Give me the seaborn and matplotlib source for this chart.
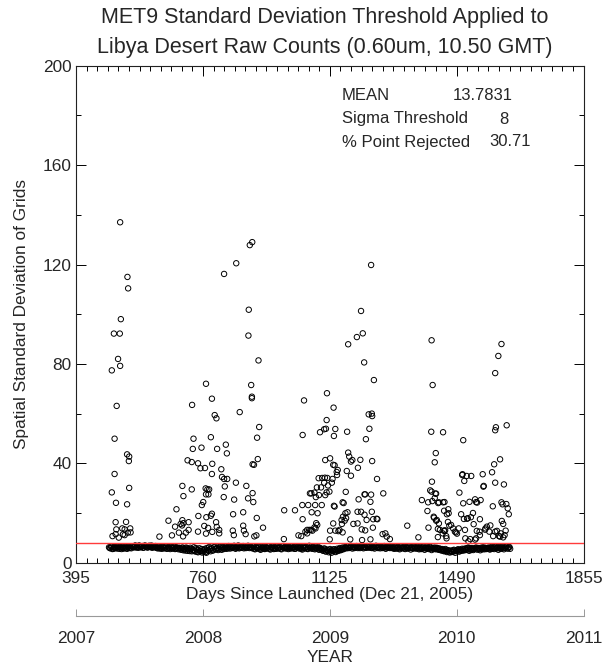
import numpy as np
import pandas as pd
import matplotlib
matplotlib.use("Agg")
import matplotlib.pyplot as plt
from matplotlib.ticker import MultipleLocator, FixedLocator
import seaborn as sns

# ---- data -------------------------------------------------------------
# Quiet-sky baseline, two interleaved 4-day samplings (days 490.. and 492..)
base_start_a = 490
base_start_b = 492
base_step = 4
base_vals_a = [
    6.2, 5.8, 6.5, 5.6, 6.3, 6.0, 5.7, 6.6, 6.1, 5.5, 6.4, 5.9, 6.2, 5.6, 6.5, 6.0, 5.8,
    6.6, 6.2, 6.9, 6.4, 6.0, 6.8, 6.3, 6.7, 6.1, 6.9, 6.5, 6.2, 6.8, 6.4, 6.0, 6.6, 6.3,
    6.2, 5.8, 6.4, 6.0, 5.6, 6.3, 5.9, 6.5, 5.7, 6.1, 5.5, 6.2, 5.8, 6.4, 5.6, 6.0, 5.4,
    5.9, 5.2, 6.1, 5.5, 4.9, 5.8, 5.3, 4.7, 5.6, 5.0, 6.2, 4.5, 5.4, 4.2, 5.8, 4.6, 4.1,
    4.4, 5.6, 4.0, 5.1, 6.3, 4.6, 5.7, 5.0, 6.4, 5.3, 6.0, 5.5, 6.6, 5.2, 6.2, 5.8, 6.5,
    6.1, 6.7, 5.7, 6.4, 6.0, 6.8, 5.6, 6.3, 6.9, 5.9, 6.5, 6.2, 5.8, 6.6, 6.1, 6.8, 5.9,
    6.4, 5.8, 6.6, 5.4, 6.1, 5.7, 6.5, 5.2, 6.0, 6.3, 5.5, 6.2, 5.9, 6.6, 5.3, 6.0, 5.7,
    6.2, 5.6, 6.5, 5.9, 6.3, 5.4, 6.7, 6.0, 5.7, 6.4, 5.5, 6.1, 6.6, 5.8, 6.3, 5.6, 6.0,
    6.4, 5.7, 6.1, 5.3, 6.5, 5.9, 6.2, 5.5, 6.8, 6.0, 5.6, 6.3, 5.4, 6.1, 5.8, 5.2, 5.9,
    5.4, 4.8, 5.7, 4.5, 5.1, 4.2, 5.5, 4.0, 4.7, 5.3, 4.3, 5.6, 4.9, 5.9, 5.2, 6.1, 5.6,
    6.3, 5.8, 6.6, 6.0, 6.8, 5.7, 6.4, 6.1, 6.7, 5.9, 6.5, 6.2, 6.9, 5.8, 6.4, 6.0, 6.6,
    6.2, 6.6, 5.9, 6.4, 5.7, 6.8, 6.1, 6.5, 5.8, 6.3, 6.0, 6.7, 5.6, 6.2, 6.5, 5.9, 6.3,
    6.0, 5.6, 6.4, 5.8, 6.2, 5.4, 6.5, 5.9, 6.1, 5.5, 6.3, 5.7, 6.6, 5.3, 6.0, 5.8, 6.2,
    5.7, 6.3, 5.4, 6.0, 5.6, 6.5, 5.2, 5.9, 6.2, 5.5, 6.4, 5.1, 5.8, 6.1, 5.4, 5.9, 5.2,
    5.6, 4.9, 5.3, 4.6, 5.5, 4.3, 5.0, 4.1, 4.8, 4.4, 5.2, 4.0, 4.7, 5.4, 4.5, 5.1, 5.6,
    4.9, 5.7, 5.2, 6.0, 4.8, 5.5, 5.9, 5.1, 5.6, 6.1, 5.3, 5.8, 5.0, 5.7, 6.2, 5.4, 5.9,
    5.6, 6.1, 5.3, 6.3, 5.8, 5.5, 6.4, 5.9, 5.2, 6.2, 5.7, 6.5, 5.4, 6.0, 6.6, 5.8, 6.3,
]
base_vals_b = [
    5.9, 6.4, 5.5, 6.1, 5.8, 6.6, 6.2, 5.6, 6.3, 6.0, 5.7, 6.5, 5.8, 6.3, 5.9, 6.2, 6.6,
    6.3, 6.8, 6.1, 6.6, 6.9, 6.2, 6.5, 6.0, 6.8, 6.4, 6.1, 6.7, 6.3, 6.9, 6.5, 6.2, 6.7,
    5.9, 6.5, 5.7, 6.2, 6.4, 5.8, 6.1, 5.6, 6.3, 5.9, 6.4, 5.7, 6.1, 5.5, 6.2, 5.8, 6.0,
    5.4, 6.0, 5.0, 5.7, 6.1, 4.8, 5.5, 6.0, 4.6, 5.3, 4.8, 5.9, 4.4, 5.1, 4.7, 5.5, 4.9,
    5.2, 4.3, 5.9, 4.8, 5.4, 6.0, 4.9, 6.2, 5.6, 5.9, 5.1, 6.3, 5.7, 6.4, 5.5, 6.1, 5.6,
    5.8, 6.3, 6.6, 5.9, 6.5, 6.2, 6.0, 6.7, 5.8, 6.4, 6.0, 6.7, 6.3, 5.9, 6.6, 6.2, 6.4,
    6.0, 6.5, 5.6, 6.3, 5.9, 6.2, 5.5, 6.4, 5.8, 5.6, 6.1, 5.7, 6.5, 5.6, 6.2, 6.4, 5.5,
    5.8, 6.4, 5.7, 6.1, 5.6, 6.5, 5.9, 6.3, 6.2, 5.8, 6.4, 5.7, 6.0, 6.2, 5.6, 6.5, 6.3,
    5.9, 6.3, 5.6, 6.2, 5.8, 6.4, 5.6, 6.1, 5.9, 6.5, 6.2, 5.7, 6.0, 5.6, 6.3, 5.7, 5.5,
    5.0, 5.6, 4.6, 5.3, 4.8, 5.2, 4.5, 5.0, 5.4, 4.6, 5.1, 4.7, 5.5, 5.0, 5.7, 5.4, 6.0,
    6.0, 6.5, 5.9, 6.4, 6.2, 6.5, 5.9, 6.6, 6.2, 6.4, 5.9, 6.6, 6.1, 6.5, 6.2, 6.7, 6.1,
    6.5, 6.0, 6.6, 6.1, 6.5, 6.2, 5.9, 6.3, 6.6, 5.9, 6.5, 6.1, 6.4, 6.0, 6.1, 6.6, 5.9,
    6.2, 6.1, 5.7, 6.3, 5.7, 6.1, 5.8, 6.3, 5.7, 6.2, 5.9, 6.4, 5.9, 6.2, 5.7, 6.4, 5.8,
    6.0, 5.7, 6.2, 5.5, 6.2, 5.8, 6.1, 5.6, 5.8, 6.2, 5.7, 5.9, 5.5, 5.6, 6.0, 5.5, 5.7,
    5.2, 5.5, 4.8, 5.1, 4.7, 5.0, 4.5, 4.8, 4.3, 5.0, 4.6, 4.9, 5.1, 4.6, 5.3, 4.8, 5.3,
    5.4, 5.1, 5.8, 5.3, 5.9, 5.1, 5.6, 5.5, 5.9, 5.4, 5.9, 5.4, 6.0, 5.4, 5.7, 6.0, 5.5,
    5.9, 5.5, 6.0, 5.6, 6.2, 6.0, 5.7, 6.3, 5.9, 5.6, 6.3, 5.8, 6.1, 6.4, 5.7, 6.2, 5.6,
]

# Days with elevated spatial standard deviation (cloud-contaminated grids)
spike_days = [
    498, 498, 500, 504, 506, 506, 509, 509, 510, 511, 512, 516, 518, 521, 522, 522,
    524, 528, 530, 535, 535, 539, 542, 542, 543, 544, 545, 547, 548, 548, 551, 552,
    635, 661, 671, 680, 684,
    691, 696, 700, 701, 701, 703, 704, 704, 711, 716, 719, 719, 728, 728, 729, 731,
    733, 746, 746, 747, 753, 756, 757, 761, 764, 766, 768, 769, 769, 769, 770, 773,
    775, 776, 778, 783, 783, 786, 786, 786, 787, 787, 794, 799, 798, 800, 801, 807,
    807, 813, 815, 820, 821, 821, 823, 826, 829, 830, 846, 847, 849, 850, 855, 856,
    866, 876, 876, 878, 883, 885, 890, 891, 892, 895, 899, 901, 901, 902, 903, 903,
    905, 907, 908, 914, 915, 916, 918, 920, 922, 933,
    993, 994, 1025, 1035,
    1043, 1046, 1047, 1047, 1051, 1055, 1060, 1060, 1063, 1066, 1068, 1071, 1072, 1073,
    1075, 1081, 1081, 1083, 1084, 1085, 1086, 1088, 1089, 1090, 1093, 1094, 1097, 1100,
    1102, 1103, 1109, 1109, 1111, 1112, 1112, 1114, 1116, 1116, 1117, 1118, 1120, 1124,
    1125, 1126, 1126, 1131, 1133, 1135, 1135, 1136, 1137, 1137, 1139, 1139, 1141, 1141,
    1145, 1146, 1148, 1150, 1153, 1159, 1160, 1162, 1162, 1163, 1165, 1168, 1170, 1171,
    1172, 1174, 1175, 1176, 1178, 1178, 1181, 1184, 1186, 1186, 1190, 1193, 1203, 1205,
    1205, 1206, 1208, 1213, 1215, 1215, 1217, 1218, 1220, 1224, 1225, 1225, 1227, 1227,
    1229, 1231, 1237, 1239, 1242, 1242, 1244, 1244, 1246, 1247, 1247, 1246, 1249, 1250,
    1252, 1260, 1261, 1262, 1277, 1279, 1285, 1289, 1298,
    1348, 1380, 1390, 1406, 1408, 1409, 1414, 1417, 1418, 1418, 1419, 1420, 1421, 1424,
    1425, 1427, 1427, 1429, 1430, 1431, 1431, 1433, 1436, 1436, 1437, 1439, 1439, 1442,
    1450, 1451, 1451, 1453, 1454, 1455, 1455, 1457, 1460, 1461, 1462, 1465, 1466, 1467,
    1469, 1474, 1480, 1485, 1488, 1491, 1496, 1498, 1503, 1506, 1507, 1509, 1509, 1511,
    1512, 1514, 1515, 1519, 1520, 1522, 1524, 1527, 1529, 1531, 1532, 1537, 1539, 1543,
    1543, 1546, 1546, 1548, 1549, 1556, 1557, 1557, 1559, 1565, 1567, 1568, 1572, 1573,
    1577, 1584, 1587, 1592, 1594, 1595, 1598, 1601, 1601, 1601, 1601, 1603, 1606, 1610,
    1612, 1615, 1615, 1617, 1619, 1619, 1620, 1622, 1624, 1624, 1626, 1628, 1631, 1633,
    1634, 1637, 1640,
]
spike_vals = [
    77.4, 28.3, 10.7, 92.2, 49.9, 35.7, 16.3, 11.5, 24.1, 13.4, 63.1, 82.0, 10.1, 92.2, 79.2, 137.0,
    98.0, 13.8, 11.4, 13.4, 11.1, 16.4, 43.6, 23.5, 115.0, 12.1, 110.4, 40.9, 42.7, 30.1, 13.8, 12.2,
    10.5, 16.9, 11.0, 14.5, 21.5,
    12.1, 15.6, 15.0, 17.1, 30.9, 10.6, 26.8, 15.9, 12.1, 41.2, 16.3, 13.2, 40.5, 29.5, 63.5, 45.8,
    49.9, 40.0, 12.5, 18.8, 38.0, 46.3, 23.2, 24.4, 14.8, 38.1, 29.9, 72.0, 27.5, 11.7, 18.3, 29.5,
    14.0, 27.5, 29.5, 50.5, 18.9, 66.0, 19.7, 35.7, 39.8, 12.4, 59.4, 58.1, 16.3, 14.4, 45.8, 13.2,
    11.8, 37.6, 34.5, 26.4, 33.7, 116.2, 30.7, 47.5, 44.0, 33.7, 12.9, 19.5, 11.1, 25.4, 32.2, 120.5,
    60.6, 20.3, 14.9, 12.9, 11.5, 30.9, 25.9, 91.4, 101.8, 127.8, 71.5, 66.8, 66.2, 129.0, 39.6, 28.0,
    24.4, 39.4, 10.6, 11.0, 18.0, 50.3, 41.7, 81.4, 54.6, 14.1,
    9.5, 21.1, 21.1, 11.0,
    10.7, 23.2, 51.4, 17.5, 65.3, 12.5, 13.2, 11.8, 23.2, 13.2, 27.9, 13.2, 27.9, 20.3,
    12.9, 28.2, 14.2, 23.2, 13.8, 26.4, 15.9, 30.3, 15.2, 19.9, 34.0, 27.2, 52.5, 30.3,
    23.2, 34.1, 53.7, 32.2, 34.2, 41.3, 27.2, 53.9, 57.4, 28.3, 68.2, 34.1, 31.1, 28.6,
    9.4, 42.0, 12.9, 32.2, 33.7, 39.4, 15.8, 62.4, 51.0, 22.9, 39.2, 22.6, 53.8, 12.9,
    36.5, 35.3, 37.3, 12.7, 13.2, 17.2, 15.6, 24.3, 12.2, 18.5, 24.0, 16.9, 19.9, 28.5,
    17.9, 36.9, 52.7, 20.3, 87.9, 44.3, 42.7, 9.4, 40.7, 35.0, 41.3, 15.6, 90.8, 20.5,
    15.8, 38.2, 25.5, 41.4, 101.3, 20.5, 13.4, 9.1, 92.3, 80.6, 27.5, 19.3, 27.5, 13.0,
    49.7, 17.2, 59.7, 53.9, 24.5, 9.4, 27.4, 119.8, 60.0, 59.0, 40.9, 20.5, 14.1, 17.5,
    73.5, 17.7, 33.7, 17.5, 11.5, 27.9, 11.8, 10.5, 9.5,
    14.9, 10.2, 25.2, 20.8, 24.3, 14.1, 29.1, 52.7, 89.5, 28.6, 32.6, 24.8, 71.5, 18.5,
    18.1, 40.4, 26.0, 27.8, 44.1, 27.8, 16.9, 17.2, 13.6, 10.3, 24.0, 24.3, 15.8, 13.2,
    11.8, 52.5, 24.3, 12.9, 20.9, 24.4, 12.8, 13.0, 10.7, 9.8, 19.5, 16.4, 21.5, 19.9,
    14.9, 15.2, 13.8, 12.5, 12.2, 11.7, 13.8, 28.2, 19.5, 35.3, 35.6, 49.3, 23.9, 17.6,
    32.9, 13.2, 9.8, 34.9, 17.7, 17.9, 8.6, 24.5, 9.5, 18.3, 34.9, 20.0, 15.5, 25.5,
    9.3, 24.4, 9.8, 12.8, 24.2, 12.5, 17.5, 11.1, 25.2, 35.6, 30.6, 30.9, 13.3, 13.8,
    14.5, 12.5, 15.0, 36.4, 22.7, 10.7, 39.6, 76.3, 53.3, 32.2, 12.5, 54.5, 12.8, 83.2,
    10.7, 41.6, 10.5, 11.8, 88.0, 24.3, 16.8, 23.5, 15.6, 10.2, 31.5, 11.1, 12.9, 23.6,
    55.3, 21.9, 19.5,
]

threshold = 8.0
stats_labels = ["MEAN", "Sigma Threshold", "% Point Rejected"]
stats_values = ["13.7831", "8", "30.71"]

day_ticks = [395, 760, 1125, 1490, 1855]
year_ticks = [2007, 2008, 2009, 2010, 2011]

# ---- frame ------------------------------------------------------------
days_a = base_start_a + base_step * np.arange(len(base_vals_a))
days_b = base_start_b + base_step * np.arange(len(base_vals_b))
df = pd.concat([
    pd.DataFrame({"day": days_a, "sd": base_vals_a}),
    pd.DataFrame({"day": days_b, "sd": base_vals_b}),
    pd.DataFrame({"day": spike_days, "sd": spike_vals}),
], ignore_index=True)

sns.set_theme(style="ticks")
plt.rcParams["font.family"] = ["Liberation Sans", "DejaVu Sans"]
plt.rcParams.update({
    "xtick.direction": "in", "ytick.direction": "in",
    "xtick.top": True, "ytick.right": True,
    "axes.linewidth": 0.8,
})

W, H = 605, 668
fig = plt.figure(figsize=(W / 100, H / 100), dpi=100)
L, R, T, B = 76, 583.5, 65.7, 562.7
ax = fig.add_axes([L / W, 1 - B / H, (R - L) / W, (B - T) / H])

sns.scatterplot(data=df, x="day", y="sd", ax=ax, marker="o", s=15,
                facecolor="none", edgecolor="black", linewidth=0.7,
                legend=False, zorder=3)
ax.axhline(threshold, color="#ff3b3b", lw=1.0, zorder=4)

ax.set_xlim(day_ticks[0], day_ticks[-1])
ax.set_ylim(0, 200)
ax.xaxis.set_major_locator(FixedLocator(day_ticks))
ax.xaxis.set_minor_locator(MultipleLocator(365 / 12))
ax.yaxis.set_major_locator(MultipleLocator(40))
ax.yaxis.set_minor_locator(MultipleLocator(20))
ax.tick_params(which="major", length=7, width=0.7, labelsize=12.4, color="black")
ax.tick_params(which="minor", length=3.5, width=0.7, color="black")
ax.tick_params(axis="x", which="major", pad=6)
ax.tick_params(axis="y", which="major", pad=3)
for sp in ax.spines.values():
    sp.set_color("#222222")

ax.set_xlabel("Days Since Launched (Dec 21, 2005)", fontsize=12.4, labelpad=1)
ax.set_ylabel("Spatial Standard Deviation of Grids", fontsize=12.4, labelpad=10)

# Calendar year axis below the day axis
def day_to_year(d):
    return year_ticks[0] + (np.asarray(d) - day_ticks[0]) / 365.0

def year_to_day(y):
    return day_ticks[0] + (np.asarray(y) - year_ticks[0]) * 365.0

sec = ax.secondary_xaxis((B - 616) / (B - T), functions=(day_to_year, year_to_day))
sec.xaxis.set_major_locator(FixedLocator(year_ticks))
sec.xaxis.set_minor_locator(FixedLocator([]))
sec.tick_params(which="major", direction="in", length=5, width=0.7,
                color="#999999", labelsize=12.4, pad=11)
sec.spines["bottom"].set_color("#999999")
sec.set_xlabel("YEAR", fontsize=12.4, labelpad=3)

# Title
fig.text(325 / W, 1 - 18 / H, "MET9 Standard Deviation Threshold Applied to",
         ha="center", va="center", fontsize=15.5)
fig.text(325 / W, 1 - 47 / H, "Libya Desert Raw Counts (0.60um, 10.50 GMT)",
         ha="center", va="center", fontsize=15.5)

# Statistics block
rows_y = [96, 119, 142]
for lab, yv in zip(stats_labels, rows_y):
    fig.text(342 / W, 1 - yv / H, lab, ha="left", va="center", fontsize=12)
fig.text(513 / W, 1 - rows_y[0] / H, stats_values[0], ha="right", va="center", fontsize=12)
fig.text(504 / W, 1 - rows_y[1] / H, stats_values[1], ha="center", va="center", fontsize=12)
fig.text(531 / W, 1 - rows_y[2] / H, stats_values[2], ha="right", va="center", fontsize=12)

fig.savefig("out.png", dpi=100)
